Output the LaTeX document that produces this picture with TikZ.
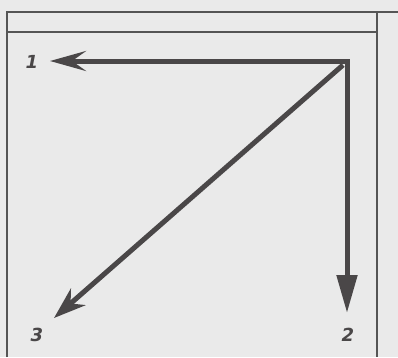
\documentclass[tikz,border=0pt]{standalone}
\usepackage{fontspec}
\setmainfont{DejaVu Sans}
\usetikzlibrary{arrows.meta}
\definecolor{bg}{HTML}{EAEAEA}
\definecolor{ink}{HTML}{4A4748}
\definecolor{frame}{HTML}{555555}
\begin{document}
\begin{tikzpicture}[x=1pt,y=-1pt,
  frameline/.style={draw=frame,line width=1.6pt},
  arrowline/.style={draw=ink,line width=5pt,line join=miter},
  lbl/.style={text=ink,font=\fontsize{18}{18}\selectfont\bfseries\itshape,inner sep=0pt}]
\fill[bg] (0,0) rectangle (398,357);
\useasboundingbox (0,0) rectangle (398,357);
% frames
\draw[frameline] (7,357) -- (7,12) -- (398,12);
\draw[frameline] (7,32) -- (376,32);
\draw[frameline] (377,12) -- (377,357);
% labels
\node[lbl] (n1) at (32,62) {1};
\node[lbl] (n2) at (348,335) {2};
\node[lbl] (n3) at (37,335) {3};
\coordinate (c) at (347,61);
\coordinate (t1) at (50,61);
\coordinate (t2) at (347,313);
\coordinate (t3) at (54,318);
% arrows
\draw[arrowline,{Stealth[length=36pt,width=20pt,inset=14pt]}-{Triangle[length=38pt,width=20pt]}] (t1) -- (c) -- (t2);
\draw[arrowline,-{Stealth[length=32pt,width=22pt,inset=10pt]}] ([shift={(-4,4)}]c) -- (t3);
\end{tikzpicture}
\end{document}
